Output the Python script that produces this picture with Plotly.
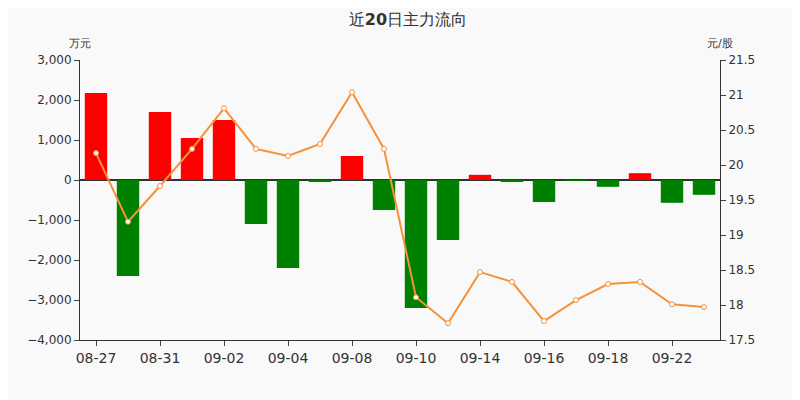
import plotly.graph_objects as go

dates = ["08-27","08-28","08-31","09-01","09-02","09-03","09-04","09-07","09-08","09-09",
         "09-10","09-11","09-14","09-15","09-16","09-17","09-18","09-21","09-22","09-23"]
flow = [2175,-2400,1700,1050,1500,-1100,-2200,-50,600,-750,
        -3200,-1500,130,-50,-550,-10,-170,170,-570,-370]
price = [20.17,19.19,19.7,20.23,20.81,20.23,20.13,20.3,21.04,20.23,
         18.11,17.74,18.47,18.33,17.77,18.07,18.3,18.33,18.01,17.97]
tick_labels = ["08-27","08-31","09-02","09-04","09-08","09-10","09-14","09-16","09-18","09-22"]

colors = ["#ff0000" if v >= 0 else "#008000" for v in flow]
fig = go.Figure()
fig.add_bar(x=dates, y=flow, marker_color=colors, marker_line_width=0, width=0.7)
fig.add_scatter(x=dates, y=price, yaxis="y2", mode="lines+markers",
                line=dict(color="#f5913a", width=2),
                marker=dict(size=5, color="white", line=dict(color="#f5913a", width=1)))
fig.update_layout(
    width=800, height=400, margin=dict(l=72, r=88, t=52, b=68),
    paper_bgcolor="#f9f9f9", plot_bgcolor="#f9f9f9", showlegend=False,
    font=dict(family="DejaVu Sans", color="#333"),
    title=dict(text="近<b>20</b>日主力流向", x=0.5, y=0.985, yanchor="top", xanchor="center", font=dict(size=16)),
    xaxis=dict(type="category", tickmode="array", tickvals=tick_labels, ticktext=tick_labels,
               showline=True, linecolor="#333", ticks="outside", tickfont=dict(size=14),
               showgrid=False, range=[-0.5, 19.5]),
    yaxis=dict(range=[-4000, 3000], dtick=1000, tickformat=",", showgrid=False, zeroline=True,
               zerolinecolor="#333", showline=True, linecolor="#333", ticks="outside",
               tickfont=dict(size=12)),
    yaxis2=dict(range=[17.5, 21.5], dtick=0.5, overlaying="y", side="right", showgrid=False,
                showline=True, linecolor="#333", ticks="outside", tickfont=dict(size=12),
                zeroline=False),
    annotations=[
        dict(text="万元", xref="paper", yref="paper", x=0.0, y=1.09, showarrow=False,
             xanchor="center", font=dict(size=11)),
        dict(text="元/股", xref="paper", yref="paper", x=1.0, y=1.09, showarrow=False,
             xanchor="center", font=dict(size=11)),
    ],
)
fig.write_html("out.html")
